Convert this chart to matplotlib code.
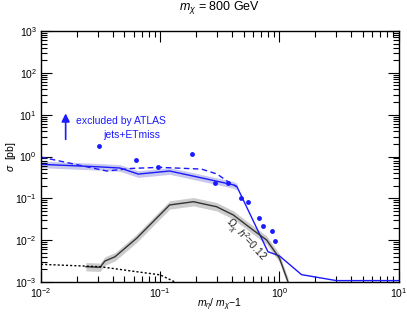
import numpy as np
import matplotlib
matplotlib.use("Agg")
import matplotlib.pyplot as plt

plt.rcParams['font.family'] = ['Liberation Sans', 'DejaVu Sans']
plt.rcParams['mathtext.fontset'] = 'custom'
plt.rcParams['mathtext.rm'] = 'Liberation Sans'
plt.rcParams['mathtext.it'] = 'Liberation Sans:italic'
plt.rcParams['mathtext.sf'] = 'Liberation Sans'

# ATLAS limit, solid
lim_x = [0.01, 0.0293, 0.046, 0.0655, 0.12, 0.245, 0.41, 0.44, 0.80, 1.0, 1.53, 3.0, 10.0]
lim_y = [0.65, 0.57, 0.53, 0.38, 0.45, 0.29, 0.21, 0.19, 0.0053, 0.0042, 0.0015, 0.00108, 0.00108]
# ATLAS limit, dashed (expected)
exp_x = [0.01, 0.0356, 0.058, 0.1, 0.222, 0.30, 0.37, 0.44]
exp_y = [0.97, 0.45, 0.52, 0.55, 0.50, 0.38, 0.25, 0.19]
# recast points
pts_x = [0.0308, 0.0625, 0.096, 0.183, 0.288, 0.367, 0.48, 0.547, 0.672, 0.73, 0.86, 0.915]
pts_y = [1.82, 0.83, 0.55, 1.13, 0.23, 0.238, 0.104, 0.083, 0.0334, 0.022, 0.0169, 0.0097]
# relic density line
rel_x = [0.0238, 0.0313, 0.0344, 0.0417, 0.0634, 0.12, 0.19, 0.297, 0.41, 0.60, 0.78, 1.0, 1.18]
rel_y = [0.00232, 0.00225, 0.00318, 0.004, 0.0111, 0.0695, 0.083, 0.063, 0.04, 0.0175, 0.0101, 0.0037, 0.001]
# dotted line
dot_x = [0.01, 0.0313, 0.06, 0.1, 0.133]
dot_y = [0.00265, 0.00232, 0.0018, 0.00148, 0.001]

fig = plt.figure(figsize=(4.07, 3.17), dpi=100)
ax = fig.add_axes([0.1007, 0.1104, 0.8790, 0.7918])

blue = '#1a1aff'

band = 10 ** 0.08
ax.fill_between(lim_x[:8], np.array(lim_y[:8]) / band, np.array(lim_y[:8]) * band,
                color='#c8c8ee', lw=0)
ax.plot(lim_x, lim_y, color=blue, lw=1.0)
ax.plot(exp_x, exp_y, color=blue, lw=1.0, ls=(0, (4, 2.5)))
ax.plot(pts_x, pts_y, 'o', color=blue, ms=3.5, mec='none')

rband = 10 ** 0.1
ax.fill_between(rel_x, np.array(rel_y) / rband, np.array(rel_y) * rband,
                color='#cccccc', lw=0)
ax.plot(rel_x, rel_y, color='#333333', lw=1.0)
ax.plot(dot_x, dot_y, color='black', lw=1.0, ls=(0, (1.5, 1.5)))

ax.annotate('', xy=(0.0161, 12.5), xytext=(0.0161, 2.2),
            arrowprops=dict(arrowstyle='-|>', color=blue, lw=1.2,
                            mutation_scale=12))
ax.text(0.0198, 7.2, 'excluded by ATLAS', color=blue, fontsize=7.5, va='center')
ax.text(0.0335, 3.2, 'jets+ETmiss', color=blue, fontsize=7.5, va='center')
ax.text(0.51, 0.0101, r'$\Omega_\chi\ h^2$=0.12', rotation=-47, fontsize=7.5,
        ha='center', va='center', color='#222222', rotation_mode='anchor')

ax.set_xscale('log')
ax.set_yscale('log')
ax.set_xlim(0.01, 10)
ax.set_ylim(1e-3, 1e3)
ax.tick_params(which='both', direction='in', top=True, right=True, labelsize=7.5)
ax.tick_params(which='major', length=8, width=0.8)
ax.tick_params(which='minor', length=4, width=0.8)
ax.tick_params(axis='x', pad=3)
ax.tick_params(axis='y', pad=3)
for s in ax.spines.values():
    s.set_linewidth(1.0)

ax.set_xlabel(r'$m_\eta/\ m_\chi$$-$1', fontsize=7.5, va='center')
ax.xaxis.set_label_coords(0.5, -0.092)
ax.set_ylabel(r'$\sigma$  [pb]', fontsize=7.5, va='center')
ax.yaxis.set_label_coords(-0.085, 0.5)
ax.text(0.5, 1.094, r'$m_\chi$ = 800 GeV', transform=ax.transAxes,
        fontsize=9, ha='center', va='center')

fig.savefig('out.png', dpi=100)
